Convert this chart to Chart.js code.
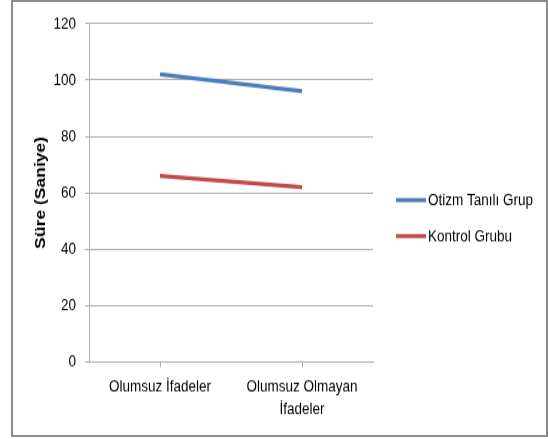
<!DOCTYPE html>
<html>
<head>
<meta charset="utf-8">
<script src="https://cdn.jsdelivr.net/npm/chart.js@4/dist/chart.umd.min.js"></script>
<style>
  html, body { margin: 0; padding: 0; background: #fff; overflow: hidden; }
  #wrap { position: relative; width: 548px; height: 439px; }
  #frame { position: absolute; left: 11px; top: 0; width: 533px; height: 433px; border: 2px solid #8c8c8c; }
  /* the original picture is stretched vertically, so draw at 351px and stretch to 439px */
  canvas { position: absolute; left: 0; top: 0; width: 548px; height: 351px; transform: scaleY(1.2507); transform-origin: 0 0; }
</style>
</head>
<body>
<div id="wrap">
  <div id="frame"></div>
  <canvas id="chart" width="548" height="351"></canvas>
</div>
<script>
// ── Data ──
const categories = ['Olumsuz İfadeler', ['Olumsuz Olmayan', 'İfadeler']];
const seriesNames = ['Otizm Tanılı Grup', 'Kontrol Grubu'];
const otizmValues = [102, 96];
const kontrolValues = [66, 62];
const yTicks = [0, 20, 40, 60, 80, 100, 120];

const FONT = '"Liberation Sans", Arial, sans-serif';
const GRID = '#acacac';

// ── Legend drawn at the spot Excel put it ──
const sideLegend = {
  id: 'sideLegend',
  afterDraw(chart) {
    const ctx = chart.ctx;
    const rows = [160, 188.8];
    ctx.save();
    chart.data.datasets.forEach((ds, i) => {
      const y = rows[i];
      ctx.strokeStyle = ds.borderColor;
      ctx.lineWidth = ds.borderWidth;
      ctx.beginPath();
      ctx.moveTo(396, y);
      ctx.lineTo(426, y);
      ctx.stroke();
      ctx.fillStyle = '#000';
      ctx.font = `13.5px ${FONT}`;
      ctx.textBaseline = 'middle';
      ctx.textAlign = 'left';
      ctx.fillText(ds.label, 428, y);
    });
    ctx.restore();
  }
};

new Chart(document.getElementById('chart'), {
  type: 'line',
  data: {
    labels: categories,
    datasets: [
      { label: seriesNames[0], data: otizmValues, borderColor: '#4a7ebb', backgroundColor: '#4a7ebb', borderWidth: 3.2, pointRadius: 0 },
      { label: seriesNames[1], data: kontrolValues, borderColor: '#be4b48', backgroundColor: '#be4b48', borderWidth: 3.2, pointRadius: 0 }
    ]
  },
  plugins: [sideLegend],
  options: {
    responsive: false,
    animation: false,
    layout: { padding: { left: 12, top: 18.8, right: 175, bottom: 0 } },
    plugins: {
      tooltip: { enabled: false },
      legend: { display: false }
    },
    scales: {
      x: {
        offset: true,
        afterFit: s => { s.height = 351 - 289.6; },
        grid: { drawOnChartArea: false, drawTicks: true, tickLength: 4, color: GRID },
        border: { color: GRID },
        ticks: { color: '#000', font: { family: FONT, size: 13.5, lineHeight: 1.3 }, padding: 7, maxRotation: 0 }
      },
      y: {
        min: 0, max: 120,
        afterBuildTicks: s => { s.ticks = yTicks.map(v => ({ value: v })); },
        afterFit: s => { s.width = 89 - 12; },
        grid: { color: GRID, tickLength: 4 },
        border: { color: GRID },
        ticks: { color: '#000', font: { family: FONT, size: 13.5 }, padding: 9 },
        title: {
          display: true, text: 'Süre (Saniye)', color: '#000',
          font: { family: FONT, size: 14, weight: 'bold' },
          padding: { top: 20.6, bottom: 0 }
        }
      }
    }
  }
});
</script>
</body>
</html>
